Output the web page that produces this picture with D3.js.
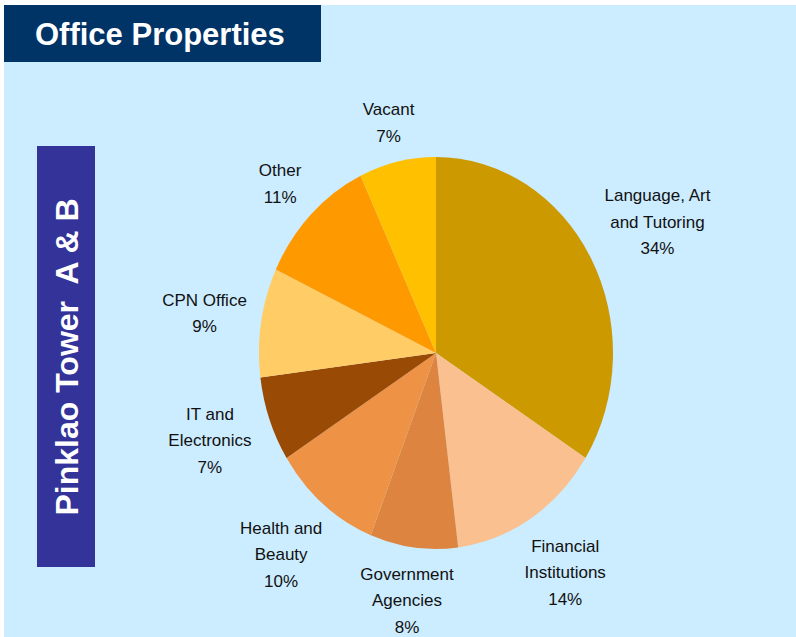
<!DOCTYPE html>
<html lang="en">
	<head>
		<meta charset="utf-8">
		<title>Office Properties</title>
		<script src="https://d3js.org/d3.v7.min.js"></script>
		<style type="text/css">
			body {
				margin: 0;
				background: #ffffff;
			}
			text {
				font-family: "Liberation Sans", Arial, sans-serif;
			}
		</style>
	</head>
	<body>
		<script type="text/javascript">
			// slices, clockwise from 12 o'clock
			var categories = ["Language, Art\nand Tutoring", "Financial\nInstitutions", "Government\nAgencies",
							  "Health and\nBeauty", "IT and\nElectronics", "CPN Office", "Other", "Vacant"];
			var shares = [34, 14, 8, 10, 7, 9, 11, 7];
			var colors = ["#cc9900", "#fac090", "#dd8540", "#ee9246", "#994a05", "#ffcc66", "#ff9900", "#ffc000"];

			var w = 796;
			var h = 637;

			var svg = d3.select("body")
						.append("svg")
						.attr("width", w)
						.attr("height", h);

			// light blue panel
			svg.append("rect")
			   .attr("x", 4)
			   .attr("y", 5)
			   .attr("width", w - 4)
			   .attr("height", h - 5)
			   .attr("fill", "#ccecff");

			// title box
			svg.append("rect")
			   .attr("x", 4)
			   .attr("y", 5)
			   .attr("width", 317)
			   .attr("height", 57)
			   .attr("fill", "#003366");

			svg.append("text")
			   .attr("x", 35)
			   .attr("y", 45)
			   .attr("font-size", "31px")
			   .attr("font-weight", "bold")
			   .attr("fill", "white")
			   .text("Office Properties");

			// vertical side box
			svg.append("rect")
			   .attr("x", 37)
			   .attr("y", 146)
			   .attr("width", 58)
			   .attr("height", 421)
			   .attr("fill", "#333399");

			svg.append("text")
			   .attr("transform", "translate(78,357) rotate(-90)")
			   .attr("text-anchor", "middle")
			   .attr("font-size", "32px")
			   .attr("font-weight", "bold")
			   .attr("fill", "white")
			   .attr("xml:space", "preserve")
			   .style("white-space", "pre")
			   .text("Pinklao Tower  A & B");

			// pie (slightly taller than wide, like the original)
			var cx = 436, cy = 353;
			var rx = 177, ry = 196;
			var sy = ry / rx;

			var pie = d3.pie()
						.sort(null)
						.value(function(d) { return d; });
			var arcs = pie(shares);

			var arc = d3.arc()
						.innerRadius(0)
						.outerRadius(rx);

			var g = svg.append("g")
					   .attr("transform", "translate(" + cx + "," + cy + ") scale(1," + sy + ")");

			g.selectAll("path")
			 .data(arcs)
			 .enter()
			 .append("path")
			 .attr("d", arc)
			 .attr("fill", function(d, i) { return colors[i]; });

			// labels outside slices: box kept a small gap off the pie edge
			var lineH = 26.5;
			var gap = 12;

			var labels = svg.selectAll("text.label")
							.data(arcs)
							.enter()
							.append("text")
							.attr("class", "label")
							.attr("text-anchor", "middle")
							.attr("font-size", "17px")
							.attr("fill", "#111111");

			labels.each(function(d, i) {
				var lines = categories[i].split("\n").concat([shares[i] + "%"]);
				var t = d3.select(this);
				t.selectAll("tspan")
				 .data(lines)
				 .enter()
				 .append("tspan")
				 .attr("x", 0)
				 .attr("dy", function(s, k) { return k == 0 ? 0 : lineH; })
				 .text(function(s) { return s; });

				var bb = this.getBBox();
				var a = (d.startAngle + d.endAngle) / 2;
				var ux = Math.sin(a), uy = -Math.cos(a);
				var ex = cx + rx * ux, ey = cy + ry * uy;
				var off = gap + Math.abs(ux) * bb.width / 2 + Math.abs(uy) * bb.height / 2;
				var x = ex + ux * off;
				var y = ey + uy * off;
				// shift so the block's centre lands on (x, y)
				var dx = x - (bb.x + bb.width / 2);
				var dy = y - (bb.y + bb.height / 2);
				t.attr("transform", "translate(" + dx + "," + dy + ")");
			});
		</script>
	</body>
</html>
